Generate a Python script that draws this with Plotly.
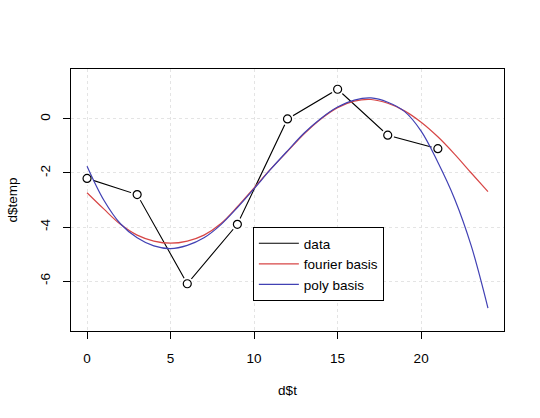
import plotly.graph_objects as go

# ---- data ----
t_data = [0, 3, 6, 9, 12, 15, 18, 21]
temp_data = [-2.2, -2.8, -6.1, -3.9, 0.0, 1.1, -0.6, -1.1]

t_curve = list(range(25))
fourier_fit = [-2.73, -3.33, -3.9, -4.3, -4.52, -4.6, -4.52, -4.3, -3.88, -3.25,
               -2.55, -1.85, -1.2, -0.55, 0.0, 0.42, 0.66, 0.72, 0.58, 0.3,
               -0.12, -0.66, -1.3, -2.0, -2.69]
poly_fit = [-1.75, -3.0, -3.88, -4.4, -4.7, -4.8, -4.68, -4.4, -3.92, -3.28,
            -2.58, -1.86, -1.18, -0.52, 0.02, 0.44, 0.7, 0.78, 0.62, 0.28,
            -0.45, -1.6, -2.95, -4.7, -7.0]

x_ticks = [0, 5, 10, 15, 20]
y_ticks = [-6, -4, -2, 0]

RED = "rgb(215,70,70)"
BLUE = "rgb(65,65,180)"
FONT = "Liberation Sans, Arial, sans-serif"
GRID = "rgb(228,228,228)"

fig = go.Figure()

# legend entries (line only, like R legend with lty=1)
fig.add_trace(go.Scatter(x=[None], y=[None], mode="lines", name="data",
                         line=dict(color="black", width=1.1)))

# data line with gaps around points (type = "b")
fig.add_trace(go.Scatter(x=t_data, y=temp_data, mode="lines+markers", showlegend=False,
                         line=dict(color="black", width=1.1),
                         marker=dict(symbol="circle", size=13, color="white",
                                     line=dict(width=0)),
                         hoverinfo="skip"))

fig.add_trace(go.Scatter(x=t_curve, y=fourier_fit, mode="lines", name="fourier basis",
                         line=dict(color=RED, width=1.2, shape="spline", smoothing=1.0)))
fig.add_trace(go.Scatter(x=t_curve, y=poly_fit, mode="lines", name="poly basis",
                         line=dict(color=BLUE, width=1.2, shape="spline", smoothing=1.0)))

fig.add_trace(go.Scatter(x=t_data, y=temp_data, mode="markers", showlegend=False,
                         marker=dict(symbol="circle-open", size=8, color="black",
                                     line=dict(width=1.2, color="black"))))

fig.update_layout(
    width=540, height=418,
    margin=dict(l=69, r=36, t=69, b=87),
    paper_bgcolor="white", plot_bgcolor="white",
    font=dict(family=FONT, size=13.5, color="black"),
    legend=dict(x=0.42, y=0.397, xanchor="left", yanchor="top",
                bgcolor="white", bordercolor="black", borderwidth=1,
                font=dict(size=13.5, family=FONT), tracegroupgap=0,
                itemwidth=40),
    xaxis=dict(range=[-0.96, 24.96], tickvals=x_ticks, ticktext=[str(v) for v in x_ticks],
               showline=True, linecolor="black", linewidth=1, mirror=True,
               ticks="outside", ticklen=7, tickcolor="black", tickwidth=1,
               showgrid=True, gridcolor=GRID, griddash="dot", gridwidth=1,
               zeroline=False, ticklabelstandoff=8,
               title=dict(text="d$t", standoff=20, font=dict(size=13.5)),
               tickfont=dict(size=13.5)),
    yaxis=dict(range=[-7.85, 1.85], tickvals=y_ticks, ticktext=[str(v) for v in y_ticks],
               showline=True, linecolor="black", linewidth=1, mirror=True,
               ticks="outside", ticklen=7, tickcolor="black", tickwidth=1,
               showgrid=True, gridcolor=GRID, griddash="dot", gridwidth=1,
               zeroline=False, tickangle=-90, ticklabelstandoff=8,
               title=dict(text="d$temp", standoff=16, font=dict(size=13.5)),
               tickfont=dict(size=13.5)),
)

fig.write_html("out.html", config={"displayModeBar": False},
               post_script="document.body.style.margin='0';")
